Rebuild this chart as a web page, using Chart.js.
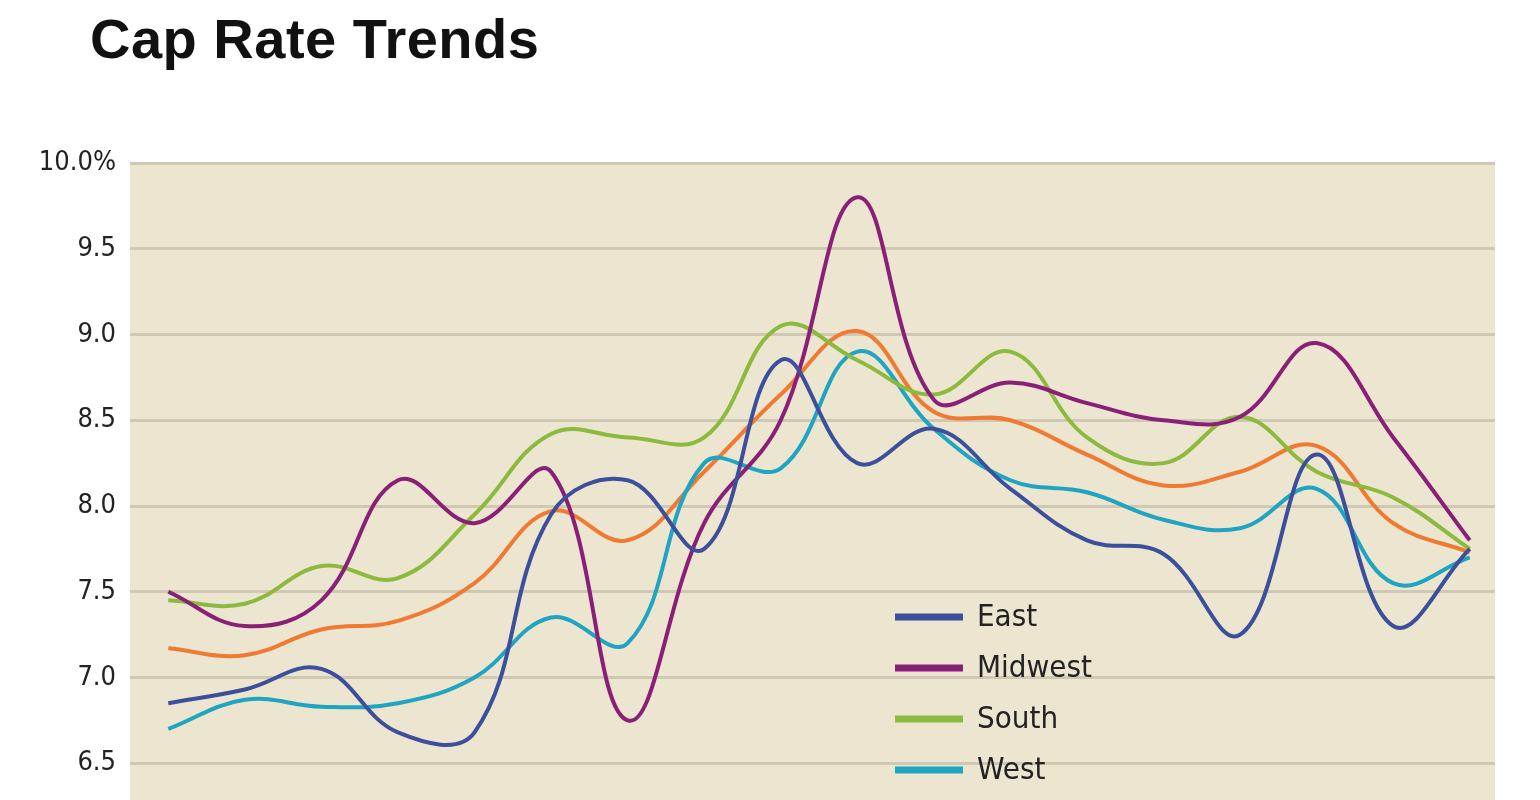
<!DOCTYPE html>
<html><head><meta charset="utf-8">
<script src="https://cdn.jsdelivr.net/npm/chart.js@4"></script>
<style>
html,body{margin:0;padding:0;background:#fff;overflow:hidden;width:1540px;height:800px}
#t{position:absolute;left:90px;top:6px;font:bold 56px "Liberation Sans",Arial,sans-serif;color:#111;letter-spacing:0.5px}
#w{position:absolute;left:0;top:0;width:1540px;height:900px}
</style></head><body>
<div id="t">Cap Rate Trends</div>
<div id="w"><canvas id="c"></canvas></div>
<script>
const seriesNames = ["East","Midwest","South","West","National"];
const east     = [6.85,6.93,7.05,6.68,6.68,7.95,8.15,7.75,8.85,8.25,8.45,8.10,7.80,7.72,7.25,8.30,7.30,7.75];
const midwest  = [7.50,7.30,7.45,8.15,7.90,8.20,6.75,7.90,8.50,9.80,8.62,8.72,8.60,8.50,8.52,8.95,8.40,7.80];
const south    = [7.45,7.43,7.65,7.58,7.95,8.42,8.40,8.40,9.05,8.85,8.65,8.90,8.40,8.25,8.52,8.20,8.05,7.75];
const west     = [6.70,6.87,6.83,6.85,7.00,7.35,7.20,8.25,8.22,8.90,8.45,8.15,8.08,7.92,7.87,8.10,7.55,7.70];
const national = [7.17,7.13,7.28,7.33,7.55,7.97,7.80,8.20,8.65,9.02,8.55,8.50,8.30,8.12,8.20,8.35,7.90,7.73];
const yTicks = [6.0,6.5,7.0,7.5,8.0,8.5,9.0,9.5,10.0];
const colors = ["#3b4f9c","#8a1f78","#8cba3e","#1fa5c2","#f07a32"];
const all = [east,midwest,south,west,national];
const narrow = '"Liberation Sans Narrow","DejaVu Sans Condensed","Roboto",sans-serif';

const bgPlugin = {id:'bg',beforeDraw(ch){const a=ch.chartArea,c=ch.ctx;c.save();c.fillStyle='#ece5cf';c.fillRect(a.left,a.top,a.right-a.left,a.bottom-a.top);c.restore();}};
const legendPlugin = {id:'lg',afterDatasetsDraw(ch){
  const c=ch.ctx;c.save();
  ch.data.datasets.forEach((d,i)=>{
    const y=617+i*51;
    c.strokeStyle=d.borderColor;c.lineWidth=7;c.beginPath();c.moveTo(895,y);c.lineTo(963,y);c.stroke();
    c.fillStyle='#222';c.font='31px '+narrow;c.textBaseline='middle';c.fillText(d.label,977,y+1);
  });c.restore();}};

new Chart(document.getElementById('c'),{
  type:'line',
  data:{datasets:all.map((arr,i)=>({label:seriesNames[i],data:arr.map((v,j)=>({x:j,y:v})),borderColor:colors[i],borderWidth:4,pointRadius:0,tension:0.4,fill:false}))},
  options:{responsive:true,maintainAspectRatio:false,animation:false,
    layout:{padding:{top:163,bottom:51,right:45,left:0}},
    plugins:{legend:{display:false},tooltip:{enabled:false}},
    scales:{
      x:{type:'linear',min:-0.5,max:17.33,display:false},
      y:{min:6,max:10,afterFit(s){s.width=130;},afterBuildTicks(s){s.ticks=yTicks.map(v=>({value:v}));},
        grid:{color:'#cfc8b2',lineWidth:3,drawTicks:false},border:{display:false},
        ticks:{padding:14,color:'#222',font:{family:narrow,size:27},callback:v=>v===10?'10.0%':v.toFixed(1)}}
    }},
  plugins:[bgPlugin,legendPlugin]
});
</script></body></html>
